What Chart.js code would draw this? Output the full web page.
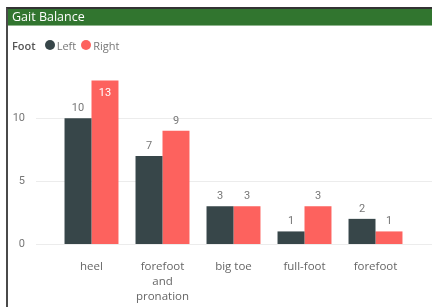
<!DOCTYPE html>
<html>
<head>
<meta charset="utf-8">
<script src="https://cdn.jsdelivr.net/npm/chart.js@4"></script>
<style>
  body { margin: 0; background: #fff; }
  #wrap { position: relative; width: 432px; height: 307px; overflow: hidden; font-family: "Open Sans", sans-serif; }
  #gaitChart { position: absolute; left: 0; top: 0; }
  #frame { position: absolute; left: 6px; top: 7px; right: 0; bottom: 0; border-left: 2px solid #4a4a4a; border-top: 2px solid #333; pointer-events: none; }
  #header { position: absolute; left: 8px; top: 9px; right: 0; height: 16px; background: #31752f; border-bottom: 1px solid #8fb58d; color: #fff; font-size: 12.5px; line-height: 16px; padding-left: 4px; }
  #legend { position: absolute; left: 12px; top: 37px; font-size: 11px; color: #777; display: flex; align-items: center; height: 16px; }
  #legend b { color: #555; font-weight: 600; margin-right: 9px; }
  #legend .dot { width: 10px; height: 10px; border-radius: 50%; display: inline-block; margin-right: 2px; }
  #legend .item { display: flex; align-items: center; margin-right: 5px; }
</style>
</head>
<body>
<div id="wrap">
  <canvas id="gaitChart" width="432" height="307"></canvas>
  <div id="frame"></div>
  <div id="header">Gait Balance</div>
  <div id="legend"></div>
</div>
<script>
/*======================================================================
    Gait Balance - Left vs Right
======================================================================== */

const categories = ['heel', ['forefoot', 'and', 'pronation'], 'big toe', 'full-foot', 'forefoot'];
const leftValues = [10, 7, 3, 1, 2];
const rightValues = [13, 9, 3, 3, 1];
const yTicks = [0, 5, 10];
const legendTitle = 'Foot';

const colors = ['#374649', '#fd625e'];

// gridlines run wider than the plot area, like the original
const gridPlugin = {
    id: 'wideGrid',
    beforeDatasetsDraw(chart) {
        const c = chart.ctx;
        const y = chart.scales.y;
        c.save();
        c.strokeStyle = '#ececec';
        c.lineWidth = 1;
        yTicks.forEach(v => {
            const py = Math.round(y.getPixelForValue(v)) + 0.5;
            c.beginPath();
            c.moveTo(36, py);
            c.lineTo(432, py);
            c.stroke();
        });
        c.restore();
    }
};

// value labels above the bars (inside when there is no room)
const valuePlugin = {
    id: 'values',
    afterDatasetsDraw(chart) {
        const c = chart.ctx;
        c.save();
        c.font = '11px Roboto, sans-serif';
        c.textAlign = 'center';
        c.textBaseline = 'middle';
        chart.data.datasets.forEach((ds, i) => {
            chart.getDatasetMeta(i).data.forEach((bar, j) => {
                let py = bar.y - 10;
                c.fillStyle = '#777';
                if (bar.y - 18 < chart.chartArea.top) {
                    py = bar.y + 13;
                    c.fillStyle = '#fff';
                }
                c.fillText(ds.data[j], bar.x, py);
            });
        });
        c.restore();
    }
};

const ctx = document.getElementById('gaitChart').getContext('2d');
const gaitChart = new Chart(ctx, {
    type: 'bar',
    data: {
        labels: categories,
        datasets: [
            { label: 'Left', data: leftValues, backgroundColor: colors[0] },
            { label: 'Right', data: rightValues, backgroundColor: colors[1] }
        ]
    },
    options: {
        responsive: false,
        animation: false,
        layout: { padding: { left: 12, right: 21, top: 68, bottom: 0 } },
        plugins: { legend: { display: false }, tooltip: { enabled: false } },
        datasets: { bar: { categoryPercentage: 0.76, barPercentage: 1 } },
        scales: {
            x: {
                grid: { display: false, drawTicks: false },
                border: { display: false },
                ticks: {
                    color: '#666',
                    font: { family: 'Open Sans', size: 11.5, lineHeight: 1.3 },
                    padding: 15,
                    maxRotation: 0,
                    autoSkip: false
                },
                afterFit(scale) { scale.height = 63; }
            },
            y: {
                min: 0,
                max: 14,
                grid: { display: false, drawTicks: false },
                border: { display: false },
                ticks: {
                    color: '#777',
                    font: { family: 'Roboto', size: 11 },
                    padding: 31
                },
                afterBuildTicks(scale) { scale.ticks = yTicks.map(v => ({ value: v })); },
                afterFit(scale) { scale.width = 44; }
            }
        }
    },
    plugins: [gridPlugin, valuePlugin]
});

// html legend
const legend = document.getElementById('legend');
legend.innerHTML = '<b>' + legendTitle + '</b>' + gaitChart.data.datasets.map((ds, i) =>
    '<span class="item"><span class="dot" style="background:' + colors[i] + '"></span>' + ds.label + '</span>'
).join('');
</script>
</body>
</html>
